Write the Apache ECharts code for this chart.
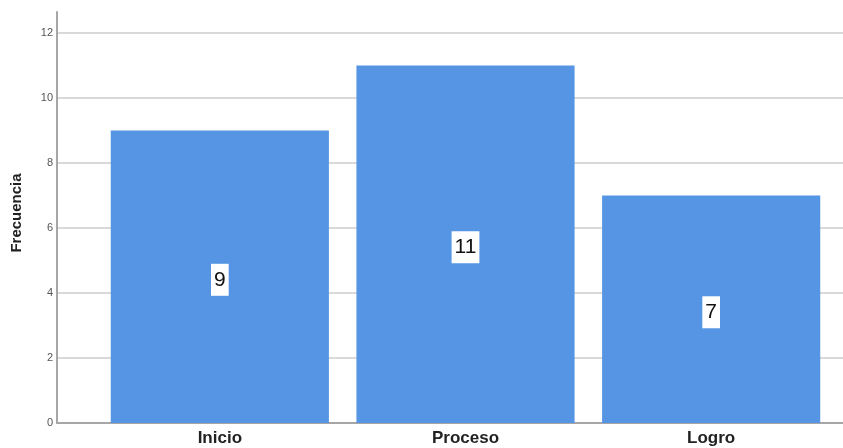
<!DOCTYPE html>
<html>
<head>
<meta charset="utf-8">
<script src="https://cdn.jsdelivr.net/npm/echarts@6/dist/echarts.min.js"></script>
<style>
  html, body { margin: 0; padding: 0; background: #fff; }
  #chart { width: 843px; height: 448px; }
</style>
</head>
<body>
<div id="chart"></div>
<script>
// Frequency per level
const categories = ['Inicio', 'Proceso', 'Logro'];
const frecuencia = [9, 11, 7];
const yAxisTitle = 'Frecuencia';

const FONT = '"Liberation Sans", Arial, sans-serif';
const AXIS_MAX = 12.65;
const PLOT_TOP = 12, PLOT_BOTTOM = 25;

const chart = echarts.init(document.getElementById('chart'));
chart.setOption({
  animation: false,
  backgroundColor: '#ffffff',
  grid: [
    // frame: y axis, gridlines and baseline
    { left: 57, right: 0, top: PLOT_TOP, bottom: PLOT_BOTTOM },
    // bars
    { left: 97, right: 9, top: PLOT_TOP, bottom: PLOT_BOTTOM }
  ],
  xAxis: [
    {
      gridIndex: 0, type: 'value', min: 0, max: 1,
      axisLine: { show: true, onZero: false, lineStyle: { color: '#a6a6a6', width: 2 } },
      axisTick: { show: false }, axisLabel: { show: false }, splitLine: { show: false }
    },
    {
      gridIndex: 1, type: 'category', data: categories,
      axisLine: { show: false }, axisTick: { show: false },
      axisLabel: { margin: 7, color: '#222', fontFamily: FONT, fontSize: 17, fontWeight: 'bold' }
    }
  ],
  yAxis: [
    {
      gridIndex: 0, type: 'value', min: 0, max: AXIS_MAX, interval: 2,
      name: yAxisTitle, nameLocation: 'middle', nameGap: 33,
      nameTextStyle: { color: '#222', fontFamily: FONT, fontSize: 15, fontWeight: 'bold', padding: [0, 0, 0, 9] },
      axisLine: { show: true, lineStyle: { color: '#a6a6a6', width: 2 } },
      axisTick: { show: false },
      axisLabel: { margin: 4, color: '#555', fontFamily: FONT, fontSize: 11, showMaxLabel: false },
      splitLine: {
        show: true,
        lineStyle: {
          color: ['#d9d9d9', '#d9d9d9', '#d9d9d9', '#d9d9d9', '#d9d9d9', '#d9d9d9', '#d9d9d9', 'rgba(0,0,0,0)'],
          width: 2
        }
      }
    },
    {
      gridIndex: 1, type: 'value', min: 0, max: AXIS_MAX,
      show: false, splitLine: { show: false }
    }
  ],
  series: [{
    type: 'bar',
    xAxisIndex: 1, yAxisIndex: 1,
    data: frecuencia,
    barCategoryGap: '11.2%',
    itemStyle: { color: '#5595e3' },
    label: {
      show: true,
      position: 'inside',
      offset: [0, 3],
      color: '#111',
      fontFamily: FONT,
      fontSize: 21,
      backgroundColor: '#ffffff',
      padding: [6, 3, 5, 3]
    }
  }]
});
</script>
</body>
</html>
